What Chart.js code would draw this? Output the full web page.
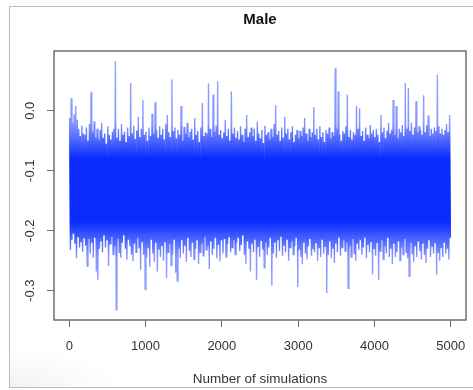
<!DOCTYPE html>
<html>
<head>
<meta charset="utf-8">
<script src="https://cdn.jsdelivr.net/npm/chart.js"></script>
<style>
  body { margin: 0; background: #fff; }
  #wrap { position: relative; width: 473px; height: 390px; overflow: hidden; }
  #frame { position: absolute; left: 9px; top: 6px; width: 480px; height: 380px;
           border: 1px solid #bcbcbc; border-right: none;
           background: radial-gradient(ellipse 110px 40px at 0% 100%, rgba(0,0,0,0.05), rgba(0,0,0,0)); }
  #trace { position: absolute; left: 0; top: 0; }
</style>
</head>
<body>
<div id="wrap">
  <div id="frame"></div>
  <canvas id="trace" width="473" height="390"></canvas>
</div>
<script>
// MCMC trace, 5000 draws, kept as the max and min of each block of 20 draws
var blockSize = 20;
var blockMax = [
  -0.012, 0.021, -0.020, -0.006, 0.008, -0.015, -0.030, -0.042, -0.025, -0.038,
  -0.040, -0.028, -0.050, -0.022, 0.031, -0.035, -0.018, -0.045, -0.030, -0.048,
  -0.032, -0.020, -0.045, -0.038, -0.055, -0.026, -0.040, -0.048, -0.035, -0.030,
  0.083, -0.045, -0.030, -0.050, -0.022, -0.040, -0.035, -0.052, -0.028, -0.042,
  0.046, -0.038, -0.025, -0.047, -0.033, -0.010, -0.044, -0.030, 0.018, -0.040,
  -0.035, -0.050, -0.028, -0.042, -0.005, -0.038, 0.014, -0.032, -0.045, -0.026,
  -0.040, -0.030, -0.048, -0.022, -0.007, -0.036, -0.044, 0.052, -0.034, -0.028,
  -0.046, -0.032, -0.040, 0.008, -0.050, -0.027, -0.038, -0.020, -0.044, -0.035,
  -0.030, -0.048, -0.012, -0.040, -0.034, -0.052, -0.028, 0.013, -0.042, -0.036,
  -0.038, 0.046, -0.030, -0.044, 0.027, -0.035, -0.025, 0.049, -0.040, -0.032,
  -0.046, -0.036, -0.015, -0.042, -0.030, -0.050, 0.032, -0.038, -0.028, -0.045,
  -0.034, -0.048, -0.026, -0.040, -0.052, -0.030, -0.007, -0.044, -0.036, -0.028,
  -0.042, -0.030, -0.050, -0.018, -0.038, -0.046, -0.032, -0.054, -0.025, -0.040,
  -0.036, -0.048, -0.030, -0.044, -0.022, 0.009, -0.040, -0.034, -0.050, -0.028,
  -0.045, -0.010, -0.038, -0.030, -0.048, -0.036, -0.026, -0.052, -0.040, -0.032,
  -0.046, -0.034, -0.042, -0.028, -0.012, -0.038, -0.050, -0.030, -0.044, -0.036,
  0.006, -0.040, -0.030, -0.048, -0.026, -0.044, -0.036, -0.052, -0.032, -0.038,
  -0.028, -0.046, -0.036, -0.042, 0.071, -0.030, 0.032, -0.040, -0.050, -0.034,
  -0.038, -0.026, 0.027, -0.044, -0.032, -0.048, -0.036, -0.040, 0.008, -0.030,
  0.004, -0.042, -0.034, -0.050, -0.028, -0.040, -0.046, -0.024, -0.038, -0.032,
  -0.044, -0.030, -0.040, -0.052, -0.007, -0.036, -0.028, -0.046, -0.034, -0.020,
  -0.038, -0.032, 0.018, -0.040, 0.008, -0.046, -0.030, -0.036, -0.024, -0.042,
  0.046, -0.030, 0.038, -0.034, -0.020, -0.040, -0.028, 0.016, -0.036, -0.026,
  -0.032, -0.040, 0.026, -0.036, -0.024, -0.008, -0.042, -0.030, -0.038, -0.028,
  -0.034, 0.060, -0.026, -0.038, -0.030, -0.040, -0.032, -0.022, -0.036, -0.007
];
var blockMin = [
  -0.232, -0.215, -0.205, -0.222, -0.246, -0.210, -0.228, -0.218, -0.235, -0.212,
  -0.225, -0.259, -0.214, -0.238, -0.220, -0.245, -0.212, -0.268, -0.282, -0.230,
  -0.218, -0.236, -0.208, -0.228, -0.215, -0.259, -0.222, -0.210, -0.240, -0.226,
  -0.332, -0.214, -0.236, -0.245, -0.220, -0.208, -0.230, -0.248, -0.215, -0.226,
  -0.240, -0.251, -0.222, -0.236, -0.212, -0.228, -0.265, -0.218, -0.240, -0.298,
  -0.245, -0.228, -0.260, -0.215, -0.238, -0.252, -0.220, -0.268, -0.232, -0.244,
  -0.226, -0.250, -0.218, -0.279, -0.236, -0.222, -0.258, -0.240, -0.214, -0.270,
  -0.284, -0.230, -0.246, -0.216, -0.238, -0.225, -0.252, -0.212, -0.234, -0.244,
  -0.220, -0.248, -0.230, -0.215, -0.256, -0.236, -0.222, -0.242, -0.210, -0.232,
  -0.226, -0.264, -0.218, -0.240, -0.230, -0.212, -0.246, -0.224, -0.251, -0.216,
  -0.238, -0.214, -0.244, -0.222, -0.210, -0.236, -0.228, -0.216, -0.240, -0.220,
  -0.212, -0.234, -0.224, -0.208, -0.240, -0.255, -0.218, -0.230, -0.268, -0.222,
  -0.236, -0.214, -0.282, -0.226, -0.244, -0.216, -0.232, -0.262, -0.220, -0.240,
  -0.228, -0.212, -0.292, -0.238, -0.220, -0.246, -0.216, -0.234, -0.210, -0.242,
  -0.224, -0.236, -0.214, -0.250, -0.228, -0.218, -0.240, -0.226, -0.212, -0.294,
  -0.232, -0.244, -0.256, -0.220, -0.238, -0.248, -0.226, -0.214, -0.242, -0.230,
  -0.236, -0.220, -0.250, -0.228, -0.244, -0.214, -0.238, -0.226, -0.304, -0.240,
  -0.218, -0.246, -0.230, -0.254, -0.222, -0.236, -0.212, -0.242, -0.228, -0.216,
  -0.234, -0.220, -0.296, -0.226, -0.244, -0.214, -0.238, -0.250, -0.222, -0.232,
  -0.216, -0.240, -0.228, -0.212, -0.246, -0.224, -0.236, -0.218, -0.273, -0.230,
  -0.242, -0.220, -0.282, -0.234, -0.216, -0.248, -0.226, -0.238, -0.212, -0.244,
  -0.230, -0.256, -0.222, -0.244, -0.236, -0.218, -0.250, -0.228, -0.240, -0.214,
  -0.236, -0.246, -0.276, -0.220, -0.238, -0.252, -0.226, -0.244, -0.218, -0.234,
  -0.248, -0.222, -0.240, -0.254, -0.230, -0.216, -0.244, -0.226, -0.238, -0.220,
  -0.273, -0.236, -0.250, -0.228, -0.244, -0.220, -0.238, -0.230, -0.248, -0.212
];
var xTicks = [0, 1000, 2000, 3000, 4000, 5000];
var yTicks = [-0.3, -0.2, -0.1, 0.0];

// walk each block: its high point, then its low point
var points = [];
for (var i = 0; i < blockMax.length; i++) {
  points.push({ x: i * blockSize + 5, y: blockMax[i] });
  points.push({ x: i * blockSize + 15, y: blockMin[i] });
}

var axisGrey = '#6e6e6e';
var textFont = 'Liberation Sans, Arial, Helvetica, sans-serif';

// thin single strokes read paler than the dense middle of the trace
function traceColour(context) {
  var chart = context.chart, y = chart.scales.y;
  if (!chart.chartArea || !y) return '#0b2bff';
  var top = y.getPixelForValue(0.1), bottom = y.getPixelForValue(-0.35);
  var g = chart.ctx.createLinearGradient(0, top, 0, bottom);
  var stops = [
    [0.1, '#97a4ff'], [-0.02, '#8796ff'], [-0.05, '#4a64ff'], [-0.08, '#0b2bff'],
    [-0.185, '#0b2bff'], [-0.215, '#4a64ff'], [-0.245, '#8796ff'], [-0.35, '#97a4ff']
  ];
  stops.forEach(function(s) {
    g.addColorStop((y.getPixelForValue(s[0]) - top) / (bottom - top), s[1]);
  });
  return g;
}

// plot box, as in base R graphics
var boxPlugin = {
  id: 'box',
  afterDatasetsDraw: function(chart) {
    var a = chart.chartArea, ctx = chart.ctx;
    ctx.save();
    ctx.strokeStyle = axisGrey;
    ctx.lineWidth = 1.5;
    ctx.strokeRect(a.left, a.top, a.right - a.left, a.bottom - a.top);
    ctx.restore();
  }
};

function fixedTicks(values) {
  return function(scale) {
    scale.ticks = values.map(function(v) { return { value: v }; });
  };
}

new Chart('trace', {
  type: 'line',
  data: {
    datasets: [{
      data: points,
      borderColor: traceColour,
      borderWidth: 1.4,
      pointRadius: 0,
      tension: 0,
      fill: false
    }]
  },
  options: {
    responsive: false,
    animation: false,
    layout: { padding: { left: 0, right: 7, top: 0, bottom: 0 } },
    plugins: {
      legend: { display: false },
      tooltip: { enabled: false },
      title: {
        display: true,
        fullSize: false,
        text: 'Male',
        color: '#111',
        font: { family: textFont, size: 15, weight: 'bold' },
        padding: { top: 11, bottom: 22 }
      }
    },
    scales: {
      x: {
        type: 'linear',
        min: -200,
        max: 5200,
        afterBuildTicks: fixedTicks(xTicks),
        afterFit: function(scale) {
          scale.height = 70;
          scale.paddingLeft = scale.paddingRight = 0;
        },
        border: { display: false },
        grid: { drawOnChartArea: false, drawTicks: true, tickLength: 7, color: axisGrey, lineWidth: 1 },
        ticks: {
          color: '#333',
          font: { family: textFont, size: 13 },
          padding: 12,
          maxRotation: 0,
          callback: function(v) { return String(v); }
        },
        title: {
          display: true,
          text: 'Number of simulations',
          color: '#333',
          font: { family: textFont, size: 13.5 },
          padding: { top: 0, bottom: 3 }
        }
      },
      y: {
        type: 'linear',
        min: -0.349,
        max: 0.0996,
        afterBuildTicks: fixedTicks(yTicks),
        afterFit: function(scale) {
          scale.width = 54;
          scale.paddingTop = scale.paddingBottom = 0;
        },
        border: { display: false },
        grid: { drawOnChartArea: false, drawTicks: true, tickLength: 7, color: axisGrey, lineWidth: 1 },
        ticks: {
          color: '#333',
          font: { family: textFont, size: 13 },
          minRotation: 90,
          maxRotation: 90,
          crossAlign: 'center',
          padding: 5,
          callback: function(v) { return v.toFixed(1); }
        }
      }
    }
  },
  plugins: [boxPlugin]
});
</script>
</body>
</html>
